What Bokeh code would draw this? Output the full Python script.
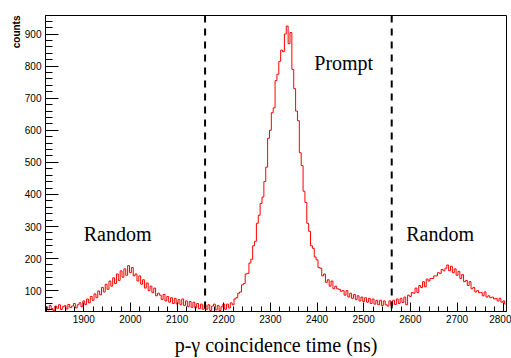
import numpy as np
from bokeh.plotting import figure
from bokeh.models import Range1d, SingleIntervalTicker, Span, Label, Title
from bokeh.embed import file_html
from bokeh.resources import INLINE

# ---- data ----
bin_lo = 1818          # ns, lower edge of first bin
bin_width = 4          # ns
counts = [
    # 1818-1886
    50, 40, 54, 44, 38, 52, 45, 56, 41, 50, 53, 43, 57, 47, 52, 60, 46, 56,
    # 1890-1966
    62, 50, 68, 57, 74, 62, 82, 70, 90, 78, 99, 87, 110, 96, 120, 104, 130, 114, 140, 122,
    # 1970-2006
    152, 132, 162, 142, 168, 148, 178, 156, 172, 146,
    # 2010-2158
    152, 130, 146, 120, 134, 108, 124, 100, 114, 94, 108, 84, 92, 86, 72, 88, 68, 82, 64, 78,
    60, 76, 58, 72, 56, 74, 54, 68, 50, 66, 48, 64, 46, 60, 44, 58, 42, 56,
    # 2162-2226
    42, 56, 38, 52, 58, 40, 54, 38, 50, 58, 42, 58, 46, 62, 56, 74, 78,
    # 2230-2290
    92, 96, 118, 122, 152, 154, 186, 198, 240, 254, 310, 335, 372, 392, 440, 485,
    # 2294-2370
    575, 600, 655, 670, 755, 775, 815, 850, 845, 900, 925, 870, 905, 790, 730, 660, 630, 530, 490, 410,
    # 2374-2450
    375, 310, 285, 240, 232, 205, 196, 172, 170, 146, 152, 126, 134, 114, 130, 106, 114, 106, 104, 98,
    # 2454-2598
    100, 86, 100, 80, 92, 76, 88, 72, 84, 68, 80, 66, 78, 64, 76, 60, 74, 58, 70, 56,
    70, 54, 68, 56, 52, 68, 54, 70, 57, 74, 60, 76, 63, 80, 56, 86, 82,
    # 2602-2802
    94, 92, 108, 94, 116, 110, 128, 112, 136, 130, 138, 138, 146, 146, 156, 154, 166, 162, 170, 180,
    162, 176, 156, 168, 148, 160, 138, 150, 128, 132, 116, 128, 106, 110, 96, 100, 94, 94, 84, 96,
    80, 84, 78, 80, 74, 76, 68, 76, 64, 68, 58,
]
cut_low = 2160         # ns, dashed line
cut_high = 2560        # ns, dashed line
x_min, x_max = 1818, 2806
y_min, y_max = 35, 958
region_labels = ["Random", "Prompt", "Random"]

SERIF = "'Liberation Serif', 'Times New Roman', serif"
SANS = "'Liberation Sans', Arial, sans-serif"

centers = bin_lo + bin_width * (np.arange(len(counts)) + 0.5)

p = figure(width=511, height=358, output_backend="svg", toolbar_location=None,
           x_range=Range1d(x_min, x_max), y_range=Range1d(y_min, y_max))
p.min_border_left = 45
p.min_border_right = 5
p.min_border_top = 15
p.min_border_bottom = 46
p.background_fill_color = "white"
p.border_fill_color = "white"
p.outline_line_color = "black"
p.outline_line_width = 1
p.grid.visible = False

p.step(centers, counts, mode="center", line_color="#ff0000", line_width=1)

for loc in (cut_low, cut_high):
    p.add_layout(Span(location=loc, dimension="height", line_color="black",
                      line_width=2, line_dash="7 6"))

for ax in (p.xaxis[0], p.yaxis[0]):
    ax.ticker = SingleIntervalTicker(interval=100, num_minor_ticks=5)
    ax.major_tick_in = 13
    ax.major_tick_out = 0
    ax.minor_tick_in = 7
    ax.minor_tick_out = 0
    ax.axis_line_color = "black"
    ax.major_tick_line_color = "black"
    ax.minor_tick_line_color = "black"
    ax.major_label_text_font = SANS
    ax.major_label_text_font_size = "10px"
    ax.major_label_text_color = "black"

p.xaxis[0].major_tick_in = 9
p.xaxis[0].minor_tick_in = 5
p.xaxis[0].major_label_standoff = 3
p.yaxis[0].major_label_standoff = 4

p.xaxis[0].axis_label = "p-\u03b3 coincidence time (ns)"
p.xaxis[0].axis_label_text_font = SERIF
p.xaxis[0].axis_label_text_font_size = "20px"
p.xaxis[0].axis_label_text_font_style = "normal"
p.xaxis[0].axis_label_text_color = "black"
p.xaxis[0].axis_label_standoff = 8

p.add_layout(Title(text="counts", align="right", text_font=SANS, text_font_size="10px",
                   text_font_style="bold", text_color="black", standoff=0, offset=0),
             "left")

text_pos = [(1900, 278), (2394, 809), (2591, 278)]
for (tx, ty), t in zip(text_pos, region_labels):
    p.add_layout(Label(x=tx, y=ty, text=t, text_align="left", text_baseline="alphabetic",
                       text_font=SERIF, text_font_size="20px",
                       text_color="black"))

open("out.html", "w").write(file_html(p, INLINE))
